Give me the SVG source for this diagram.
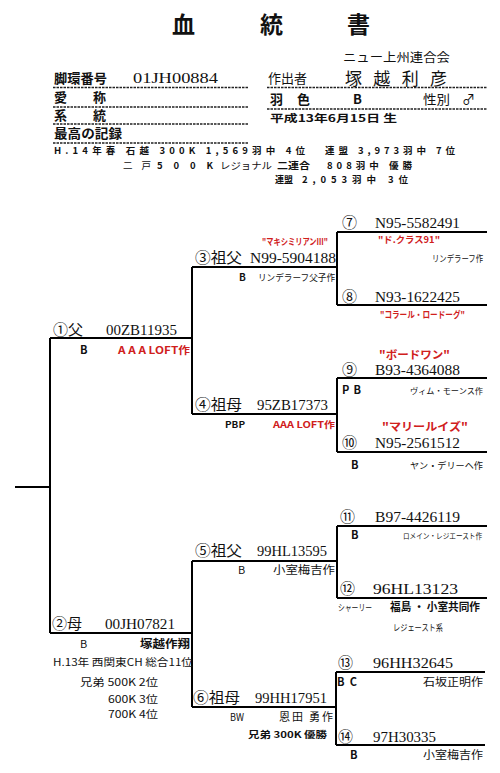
<svg xmlns="http://www.w3.org/2000/svg" width="500" height="773" viewBox="0 0 500 773">
<style>
text { font-family: "Noto Sans CJK JP", "Liberation Sans", sans-serif; fill: #111; }
.num { font-family: "Liberation Serif", "Noto Sans CJK JP", serif; font-size: 15px; }
.cj { font-size: 15px; }
.s9 { font-size: 9px; }
.s95 { font-size: 9.5px; }
.s10 { font-size: 10px; }
.s11 { font-size: 11px; }
.s13 { font-size: 13px; }
.b { font-weight: bold; }
.red { fill: #d0201c; font-weight: bold; }
.dash { stroke: #222; stroke-width: 1.6; stroke-dasharray: 2.5 1; fill: none; }
.ln { stroke: #000; stroke-width: 2; fill: none; }
</style>
<rect width="500" height="773" fill="#fff"/>

<g id="header">
  <text x="172" y="33" font-size="23" font-weight="bold">血</text>
  <text x="260" y="33" font-size="23" font-weight="bold">統</text>
  <text x="347" y="33" font-size="23" font-weight="bold">書</text>
  <text x="343" y="62" font-size="12" textLength="107" lengthAdjust="spacingAndGlyphs">ニュー上州連合会</text>
  <text x="54" y="83" class="s13 b" textLength="53" lengthAdjust="spacingAndGlyphs">脚環番号</text>
  <text x="133" y="83" class="num" font-size="17" textLength="85" lengthAdjust="spacingAndGlyphs">01JH00884</text>
  <text x="268" y="83" class="s13" textLength="39" lengthAdjust="spacingAndGlyphs">作出者</text>
  <text x="345" y="85" font-size="17" textLength="102" lengthAdjust="spacing">塚越利彦</text>
  <path class="dash" d="M53 87.5H248M267 87.5H487M53 107H248M267 109H487M53 124H248M53 143H248"/>
  <text x="54" y="102" class="s13 b">愛</text>
  <text x="93" y="102" class="s13 b">称</text>
  <text x="270" y="104" class="s13 b">羽</text>
  <text x="297" y="104" class="s13 b">色</text>
  <text x="353" y="104" class="s13 b" font-family="Liberation Sans">B</text>
  <text x="423" y="104" class="s13" textLength="27" lengthAdjust="spacingAndGlyphs">性別</text>
  <text x="462" y="104" class="s13">♂</text>
  <text x="54" y="120" class="s13 b">系</text>
  <text x="93" y="120" class="s13 b">統</text>
  <text x="270" y="122" class="s10 b" textLength="127" lengthAdjust="spacingAndGlyphs">平成13年6月15日 生</text>
  <text x="54" y="138" class="s13 b" textLength="68" lengthAdjust="spacingAndGlyphs">最高の記録</text>
  <text x="54" y="154" class="s95 b" textLength="251" lengthAdjust="spacing">H.14年春 石越 300K 1,569羽中 4位</text>
  <text x="325" y="154" class="s95 b" textLength="130" lengthAdjust="spacing">連盟 3,973羽中 7位</text>
  <text x="123" y="169" class="s95" textLength="28" lengthAdjust="spacing">二 戸</text>
  <text x="157" y="169" class="s95 b" textLength="56" lengthAdjust="spacing">500K</text>
  <text x="220" y="169" class="s95" textLength="52" lengthAdjust="spacingAndGlyphs">レジョナル</text>
  <text x="277" y="169" class="s95 b" textLength="33" lengthAdjust="spacingAndGlyphs">二連合</text>
  <text x="327" y="169" class="s95 b" textLength="85" lengthAdjust="spacing">808羽中 優勝</text>
  <text x="275" y="183" class="s95 b" textLength="18" lengthAdjust="spacingAndGlyphs">連盟</text>
  <text x="302" y="183" class="s95 b" textLength="106" lengthAdjust="spacing">2,053羽中 3位</text>
</g>

<g id="connectors">
  <path class="ln" d="M15 487H50M50 338V633M50 338H192M192 267V414M192 267H337M337 232V305M337 232H487M337 305H487M192 414H337M337 378V452M337 378H487M337 452H487M50 633H192M192 561V707M192 561H337M337 526V598M337 526H487M337 598H487M192 707H336M336 672V745M336 672H485M336 745H485"/>
</g>

<g id="n1">
  <text x="53" y="335" class="cj" textLength="30" lengthAdjust="spacingAndGlyphs">①父</text>
  <text x="106" y="335" class="num" textLength="71" lengthAdjust="spacingAndGlyphs">00ZB11935</text>
  <text x="80" y="354" class="s11 b" font-family="Liberation Sans">B</text>
  <text x="118" y="354" class="s10 red" textLength="72" lengthAdjust="spacingAndGlyphs">A A A  LOFT作</text>
</g>

<g id="n2">
  <text x="52" y="629" class="cj" textLength="30" lengthAdjust="spacingAndGlyphs">②母</text>
  <text x="105" y="629" class="num" textLength="70" lengthAdjust="spacingAndGlyphs">00JH07821</text>
  <text x="80" y="648" class="s11" font-family="Liberation Serif">B</text>
  <text x="140" y="648" class="s11 b" textLength="50" lengthAdjust="spacingAndGlyphs">塚越作翔</text>
  <text x="53" y="666" class="s10" textLength="140" lengthAdjust="spacingAndGlyphs">H.13年 西関東CH 総合11位</text>
  <text x="80" y="686" class="s10" textLength="78" lengthAdjust="spacingAndGlyphs">兄弟 500K 2位</text>
  <text x="108" y="703" class="s10" textLength="50" lengthAdjust="spacingAndGlyphs">600K 3位</text>
  <text x="108" y="718" class="s10" textLength="50" lengthAdjust="spacingAndGlyphs">700K 4位</text>
</g>

<g id="n3">
  <text x="262" y="245" class="s9 red" textLength="66" lengthAdjust="spacingAndGlyphs">"マキシミリアンⅢ"</text>
  <text x="195" y="263" class="cj" textLength="47" lengthAdjust="spacingAndGlyphs">③祖父</text>
  <text x="250" y="263" class="num" textLength="86" lengthAdjust="spacingAndGlyphs">N99-5904188</text>
  <text x="239" y="281" class="s10 b" font-family="Liberation Sans">B</text>
  <text x="258" y="281" class="s9" textLength="77" lengthAdjust="spacingAndGlyphs">リンデラーフ父子作</text>
</g>

<g id="n4">
  <text x="195" y="410" class="cj" textLength="47" lengthAdjust="spacingAndGlyphs">④祖母</text>
  <text x="257" y="410" class="num" textLength="71" lengthAdjust="spacingAndGlyphs">95ZB17373</text>
  <text x="225" y="428" class="s9 b" font-family="Liberation Sans" textLength="20" lengthAdjust="spacingAndGlyphs">PBP</text>
  <text x="273" y="428" class="s9 red" textLength="62" lengthAdjust="spacingAndGlyphs">AAA LOFT作</text>
</g>

<g id="n5">
  <text x="195" y="556" class="cj" textLength="47" lengthAdjust="spacingAndGlyphs">⑤祖父</text>
  <text x="257" y="556" class="num" textLength="70" lengthAdjust="spacingAndGlyphs">99HL13595</text>
  <text x="238" y="574" class="s11" font-family="Liberation Serif">B</text>
  <text x="273" y="574" class="s11" textLength="62" lengthAdjust="spacingAndGlyphs">小室梅吉作</text>
</g>

<g id="n6">
  <text x="193" y="703" class="cj" textLength="47" lengthAdjust="spacingAndGlyphs">⑥祖母</text>
  <text x="255" y="703" class="num" textLength="72" lengthAdjust="spacingAndGlyphs">99HH17951</text>
  <text x="230" y="721" class="s11" font-family="Liberation Serif" textLength="14" lengthAdjust="spacingAndGlyphs">BW</text>
  <text x="279" y="721" class="s11" textLength="54" lengthAdjust="spacing">恩田 勇作</text>
  <text x="248" y="738" class="s9 b" textLength="79" lengthAdjust="spacingAndGlyphs">兄弟 300K 優勝</text>
</g>

<g id="n7">
  <text x="342" y="228" class="cj">⑦</text>
  <text x="375" y="228" class="num" textLength="85" lengthAdjust="spacingAndGlyphs">N95-5582491</text>
  <text x="378" y="243" class="s9 red" textLength="62" lengthAdjust="spacingAndGlyphs">"ド.クラス91"</text>
  <text x="432" y="262" class="s9" textLength="51" lengthAdjust="spacingAndGlyphs">リンデラーフ作</text>
</g>

<g id="n8">
  <text x="342" y="302" class="cj">⑧</text>
  <text x="375" y="302" class="num" textLength="85" lengthAdjust="spacingAndGlyphs">N93-1622425</text>
  <text x="380" y="318" class="s9 red" textLength="85" lengthAdjust="spacingAndGlyphs">"コラール・ロードーグ"</text>
</g>

<g id="n9">
  <text x="379" y="359" class="s11 red" textLength="71" lengthAdjust="spacingAndGlyphs">"ボードワン"</text>
  <text x="342" y="375" class="cj">⑨</text>
  <text x="375" y="375" class="num" textLength="85" lengthAdjust="spacingAndGlyphs">B93-4364088</text>
  <text x="342" y="394" class="s11 b" font-family="Liberation Sans" textLength="19" lengthAdjust="spacing">PB</text>
  <text x="410" y="394" font-size="8" textLength="73" lengthAdjust="spacingAndGlyphs">ヴィム・モーンス作</text>
</g>

<g id="n10">
  <text x="382" y="431" class="s11 red" textLength="86" lengthAdjust="spacingAndGlyphs">"マリールイズ"</text>
  <text x="342" y="448" class="cj">⑩</text>
  <text x="375" y="448" class="num" textLength="85" lengthAdjust="spacingAndGlyphs">N95-2561512</text>
  <text x="351" y="469" class="s11 b" font-family="Liberation Sans">B</text>
  <text x="410" y="469" class="s9" textLength="73" lengthAdjust="spacingAndGlyphs">ヤン・デリーヘ作</text>
</g>

<g id="n11">
  <text x="340" y="522" class="cj">⑪</text>
  <text x="375" y="522" class="num" textLength="85" lengthAdjust="spacingAndGlyphs">B97-4426119</text>
  <text x="351" y="539" class="s11 b" font-family="Liberation Sans">B</text>
  <text x="403" y="539" font-size="7.5" textLength="79" lengthAdjust="spacingAndGlyphs">ロメイン・レジエースト作</text>
</g>

<g id="n12">
  <text x="340" y="594" class="cj">⑫</text>
  <text x="373" y="594" class="num" textLength="85" lengthAdjust="spacingAndGlyphs">96HL13123</text>
  <text x="338" y="611" class="s9" textLength="34" lengthAdjust="spacingAndGlyphs">シャーリー</text>
  <text x="390" y="611" class="s11 b" textLength="90" lengthAdjust="spacingAndGlyphs">福島 ・ 小室共同作</text>
  <text x="393" y="631" class="s9" textLength="50" lengthAdjust="spacingAndGlyphs">レジェースト系</text>
</g>

<g id="n13">
  <text x="338" y="668" class="cj">⑬</text>
  <text x="373" y="668" class="num" textLength="80" lengthAdjust="spacingAndGlyphs">96HH32645</text>
  <text x="337" y="686" class="s11 b" font-family="Liberation Sans" textLength="20" lengthAdjust="spacing">BC</text>
  <text x="423" y="686" class="s11" textLength="60" lengthAdjust="spacingAndGlyphs">石坂正明作</text>
</g>

<g id="n14">
  <text x="338" y="742" class="cj">⑭</text>
  <text x="373" y="742" class="num" textLength="63" lengthAdjust="spacingAndGlyphs">97H30335</text>
  <text x="350" y="759" class="s11 b" font-family="Liberation Sans">B</text>
  <text x="423" y="759" class="s11" textLength="60" lengthAdjust="spacingAndGlyphs">小室梅吉作</text>
</g>
</svg>
